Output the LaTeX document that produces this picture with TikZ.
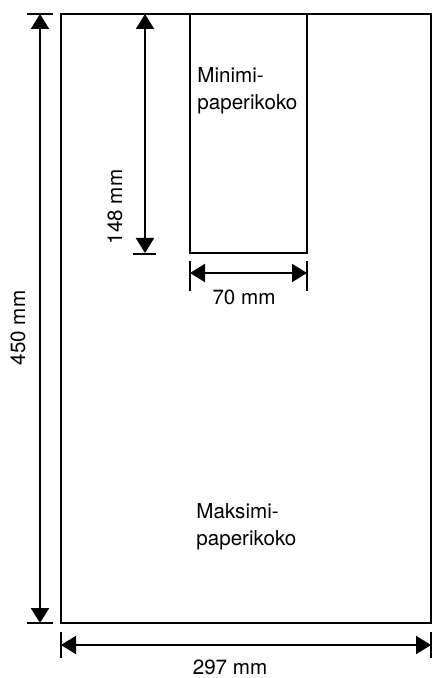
\documentclass[tikz,border=0pt]{standalone}
\usepackage{fontspec}
\setmainfont{TeX Gyre Heros}
\usetikzlibrary{
    positioning,      % For placing nodes relative to each other
    arrows.meta,      % For the filled triangle arrow tips
    calc              % For offsets from the sheet corners
}

\begin{document}
\begin{tikzpicture}[
    % Global settings: one unit is one pixel of the drawing, y grows downwards
    x=0.5pt, y=-0.5pt,
    % Style for the sheet outlines
    sheet_style/.style={
        draw,
        line width=1.1pt
    },
    % Style for the extension ticks of the dimensions
    tick_style/.style={
        line width=1.1pt
    },
    % Style for the double arrows of the dimensions
    dim_arrow/.style={
        line width=1.1pt,
        {Triangle[length=7.5pt, width=9pt]}-{Triangle[length=7.5pt, width=9pt]}
    },
    % Style for the text labels
    label_style/.style={
        font=\fontsize{10.3}{13.4}\selectfont,
        inner sep=0pt,
        align=left
    }
]
    \useasboundingbox (0,0) rectangle (437,678);

    % 1. Corners of the two sheets.
    \coordinate (max_nw) at (61,14);
    \coordinate (max_se) at (431,623);
    \coordinate (min_nw) at (190,14);
    \coordinate (min_se) at (307,253);

    \draw[sheet_style] (max_nw) rectangle (max_se);
    \draw[sheet_style] (min_nw) rectangle (min_se);

    % 2. End points of the dimension arrows.
    \coordinate (height_top) at ($(max_nw)+(-21,0)$);
    \coordinate (height_bot) at (height_top |- max_se);
    \coordinate (width_left) at ($(max_nw |- max_se)+(0,22)$);
    \coordinate (width_right) at (width_left -| max_se);
    \coordinate (min_height_top) at ($(min_nw)+(-45,0)$);
    \coordinate (min_height_bot) at (min_height_top |- min_se);
    \coordinate (min_width_left) at ($(min_nw |- min_se)+(0,20)$);
    \coordinate (min_width_right) at (min_width_left -| min_se);

    % 3. Extension ticks.
    \draw[tick_style] ($(height_top)+(-13,0)$) -- ($(height_top)+(13,0)$);
    \draw[tick_style] ($(height_bot)+(-13,0)$) -- ($(height_bot)+(13,0)$);
    \draw[tick_style] ($(width_left)+(0,-13)$) -- ($(width_left)+(0,13)$);
    \draw[tick_style] ($(width_right)+(0,-13)$) -- ($(width_right)+(0,13)$);
    \draw[tick_style] ($(min_height_bot)+(-12,1)$) -- ($(min_height_bot)+(11,1)$);
    \draw[tick_style] ($(min_width_left)+(0,-12)$) -- ($(min_width_left)+(0,18)$);
    \draw[tick_style] ($(min_width_right)+(0,-12)$) -- ($(min_width_right)+(0,18)$);

    % 4. Dimension arrows.
    \draw[dim_arrow] (height_top) -- (height_bot);
    \draw[dim_arrow] (width_left) -- (width_right);
    \draw[dim_arrow] (min_height_top) -- (min_height_bot);
    \draw[dim_arrow] (min_width_left) -- (min_width_right);

    % 5. Labels.
    \node[label_style, anchor=north west] (min_label) at (197,67) {Minimi-\\paperikoko};
    \node[label_style, anchor=north west] (max_label) at (196,503) {Maksimi-\\paperikoko};
    \node[label_style, rotate=90] (height_text) at (18,328) {450 mm};
    \node[label_style, rotate=90] (min_height_text) at (115,207) {148 mm};
    \node[label_style] (min_width_text) at (244,297) {70 mm};
    \node[label_style] (width_text) at (230,667) {297 mm};

\end{tikzpicture}
\end{document}
